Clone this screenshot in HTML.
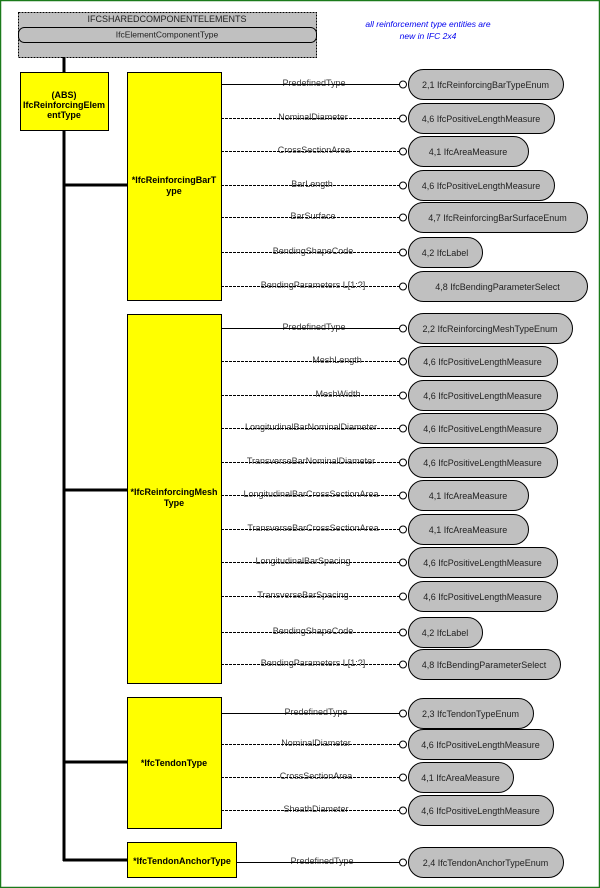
<!DOCTYPE html>
<html><head><meta charset="utf-8"><style>
html,body{margin:0;padding:0;background:#fff;}
svg{display:block;}
text{font-family:"Liberation Sans",sans-serif;}
.lb{font-size:9px;fill:#3a3a3a;text-anchor:middle;}
.pt{font-size:9px;fill:#222;text-anchor:middle;}
.bx{font-size:9px;font-weight:bold;fill:#000;text-anchor:middle;}
</style></head><body>
<svg width="600" height="888" viewBox="0 0 600 888" xmlns="http://www.w3.org/2000/svg">
<rect x="0.5" y="0.5" width="599" height="887" fill="#fff" stroke="#1a7a1a" stroke-width="1.5"/>
<rect x="18.5" y="12.5" width="298" height="45" fill="#c0c0c0" stroke="#000" stroke-dasharray="2,1"/>
<text x="167" y="22" font-size="9" text-anchor="middle" fill="#222">IFCSHAREDCOMPONENTELEMENTS</text>
<rect x="18.5" y="27.5" width="298" height="15" rx="6" fill="#c0c0c0" stroke="#000"/>
<text x="167" y="37.5" font-size="8.5" text-anchor="middle" fill="#222">IfcElementComponentType</text>
<text x="428" y="27" font-size="8.5" font-style="italic" fill="#0000ee" text-anchor="middle">all reinforcement type entities are</text>
<text x="428" y="39" font-size="8.5" font-style="italic" fill="#0000ee" text-anchor="middle">new in IFC 2x4</text>
<line x1="64" y1="57" x2="64" y2="72" stroke="#000" stroke-width="3"/>
<line x1="64" y1="130" x2="64" y2="861" stroke="#000" stroke-width="3"/>
<line x1="63" y1="185" x2="127" y2="185" stroke="#000" stroke-width="3"/>
<line x1="63" y1="490" x2="127" y2="490" stroke="#000" stroke-width="3"/>
<line x1="63" y1="762" x2="127" y2="762" stroke="#000" stroke-width="3"/>
<line x1="63" y1="860" x2="127" y2="860" stroke="#000" stroke-width="3"/>
<rect x="20.5" y="72.5" width="88" height="58" fill="#ffff00" stroke="#000"/>
<text class="bx" x="64" y="98">(ABS)</text>
<text class="bx" x="64" y="108">IfcReinforcingElem</text>
<text class="bx" x="64" y="118">entType</text>
<rect x="127.5" y="72.5" width="94" height="228" fill="#ffff00" stroke="#000"/>
<text class="bx" x="174" y="183">*IfcReinforcingBarT</text>
<text class="bx" x="174" y="194">ype</text>
<rect x="127.5" y="314.5" width="94" height="369" fill="#ffff00" stroke="#000"/>
<text class="bx" x="174" y="495">*IfcReinforcingMesh</text>
<text class="bx" x="174" y="506">Type</text>
<rect x="127.5" y="697.5" width="94" height="131" fill="#ffff00" stroke="#000"/>
<text class="bx" x="174" y="766">*IfcTendonType</text>
<rect x="127.5" y="842.5" width="109" height="35" fill="#ffff00" stroke="#000"/>
<text class="bx" x="182" y="864">*IfcTendonAnchorType</text>
<g id="rows"></g>
</svg>
<script>
var rows=[
[221,84,1,"PredefinedType",314,"2,1 IfcReinforcingBarTypeEnum",563],
[221,118,0,"NominalDiameter",313,"4,6 IfcPositiveLengthMeasure",554],
[221,151,0,"CrossSectionArea",314,"4,1 IfcAreaMeasure",528],
[221,185,0,"BarLength",312,"4,6 IfcPositiveLengthMeasure",554],
[221,217,0,"BarSurface",313,"4,7 IfcReinforcingBarSurfaceEnum",587],
[221,252,0,"BendingShapeCode",313,"4,2 IfcLabel",482],
[221,286,0,"BendingParameters L[1:?]",313,"4,8 IfcBendingParameterSelect",587],
[221,328,1,"PredefinedType",314,"2,2 IfcReinforcingMeshTypeEnum",572],
[221,361,0,"MeshLength",337,"4,6 IfcPositiveLengthMeasure",557],
[221,395,0,"MeshWidth",338,"4,6 IfcPositiveLengthMeasure",557],
[221,428,0,"LongitudinalBarNominalDiameter",311,"4,6 IfcPositiveLengthMeasure",557],
[221,462,0,"TransverseBarNominalDiameter",311,"4,6 IfcPositiveLengthMeasure",557],
[221,495,0,"LongitudinalBarCrossSectionArea",311,"4,1 IfcAreaMeasure",528],
[221,529,0,"TransverseBarCrossSectionArea",313,"4,1 IfcAreaMeasure",528],
[221,562,0,"LongitudinalBarSpacing",303,"4,6 IfcPositiveLengthMeasure",557],
[221,596,0,"TransverseBarSpacing",303,"4,6 IfcPositiveLengthMeasure",557],
[221,632,0,"BendingShapeCode",313,"4,2 IfcLabel",482],
[221,664,0,"BendingParameters L[1:?]",313,"4,8 IfcBendingParameterSelect",560],
[221,713,1,"PredefinedType",316,"2,3 IfcTendonTypeEnum",533],
[221,744,0,"NominalDiameter",316,"4,6 IfcPositiveLengthMeasure",553],
[221,777,0,"CrossSectionArea",316,"4,1 IfcAreaMeasure",513],
[221,810,0,"SheathDiameter",316,"4,6 IfcPositiveLengthMeasure",553],
[236,862,1,"PredefinedType",322,"2,4 IfcTendonAnchorTypeEnum",563]
];
var ns="http://www.w3.org/2000/svg",g=document.getElementById("rows");
function el(t,a,txt){var e=document.createElementNS(ns,t);for(var k in a)e.setAttribute(k,a[k]);if(txt)e.textContent=txt;g.appendChild(e);return e;}
rows.forEach(function(r){
var y=r[1]+0.5;
var pc=(408+r[6])/2;
el("rect",{x:408.5,y:r[1]-14.5,width:r[6]-408,height:30,rx:15,fill:"#c0c0c0",stroke:"#000"});
el("text",{"class":"pt",x:pc,y:r[1]+4},r[5]);
var l={x1:r[0],y1:y,x2:399.5,y2:y,stroke:"#000","stroke-width":1};
if(!r[2])l["stroke-dasharray"]="3,1";
el("text",{"class":"lb",x:r[4],y:r[1]+2},r[3]);
el("line",l);
el("circle",{cx:403,cy:y,r:3.5,fill:"#fff",stroke:"#000"});
});
</script>
</body></html>
